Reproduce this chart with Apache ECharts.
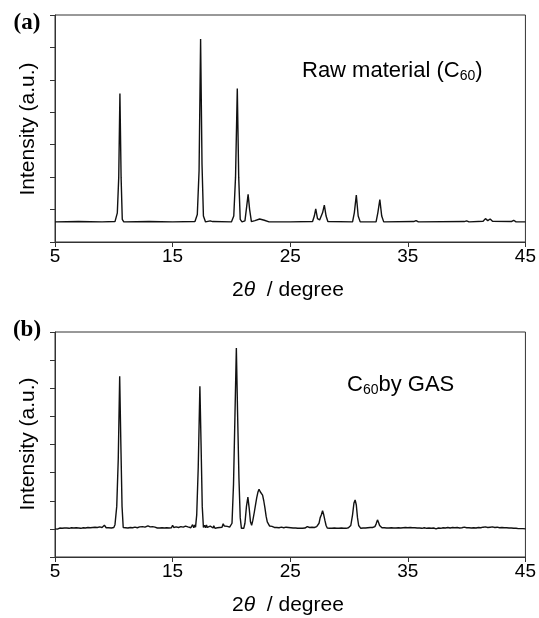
<!DOCTYPE html>
<html>
<head>
<meta charset="utf-8">
<script src="https://cdn.jsdelivr.net/npm/echarts@6/dist/echarts.min.js"></script>
<style>
  html, body { margin: 0; padding: 0; background: #fff; }
  #chart { width: 539px; height: 618px; }
</style>
</head>
<body>
<div id="chart"></div>
<script>
// x ticks shared by both panels
const xTicks = [5, 15, 25, 35, 45];

// (a) raw C60, [2theta, intensity]
const rawPattern = [
  [5, 0.62], [7, 0.63], [9, 0.62], [10.1, 0.63], [10.3, 0.9], [10.42, 2.0], [10.52, 4.58],
  [10.62, 2.0], [10.72, 0.7], [10.85, 0.62], [13, 0.63], [15, 0.62], [16.9, 0.63],
  [17.1, 0.85], [17.25, 2.2], [17.38, 6.26], [17.5, 2.4], [17.62, 0.8], [17.8, 0.62],
  [18.2, 0.65], [18.4, 0.63], [20.0, 0.62], [20.2, 0.8], [20.35, 2.0], [20.5, 4.73],
  [20.62, 2.0], [20.75, 0.7], [20.9, 0.62], [21.15, 0.65], [21.3, 1.1], [21.42, 1.47],
  [21.55, 1.0], [21.7, 0.63], [22.0, 0.66], [22.4, 0.71], [22.8, 0.67], [23.2, 0.62],
  [25, 0.62], [26.9, 0.63], [27.05, 0.8], [27.17, 1.02], [27.32, 0.72], [27.5, 0.68],
  [27.75, 0.9], [27.9, 1.14], [28.05, 0.8], [28.2, 0.63], [30.3, 0.62], [30.45, 0.9],
  [30.62, 1.45], [30.78, 0.8], [30.95, 0.62], [32.3, 0.62], [32.45, 0.9], [32.62, 1.31],
  [32.78, 0.8], [32.95, 0.62], [35.5, 0.63], [35.7, 0.66], [35.9, 0.62], [39.8, 0.63],
  [40.0, 0.65], [40.2, 0.62], [41.4, 0.64], [41.6, 0.72], [41.8, 0.66], [42.0, 0.71],
  [42.2, 0.64], [43.8, 0.63], [44.0, 0.67], [44.2, 0.62], [45, 0.62]
];

// (b) C60 by GAS
const gasPattern = [
  [5.0, 1.00], [5.1, 1.02], [5.2, 0.99], [5.3, 1.01], [5.4, 1.03], [5.5, 1.00], [5.6, 1.02],
  [5.7, 0.99], [5.8, 1.03], [5.9, 1.01], [6.0, 1.03], [6.1, 1.00], [6.2, 1.02], [6.3, 1.01],
  [6.4, 1.04], [6.5, 1.00], [6.6, 1.03], [6.7, 1.01], [6.8, 1.04], [6.9, 1.01], [7.0, 1.03],
  [7.1, 1.00], [7.2, 1.02], [7.3, 1.01], [7.4, 1.04], [7.5, 1.02], [7.6, 1.03], [7.7, 1.01],
  [7.8, 1.05], [7.9, 1.02], [8.0, 1.04], [8.1, 1.02], [8.2, 1.05], [8.3, 1.03], [8.4, 1.06],
  [8.5, 1.02], [8.6, 1.05], [8.7, 1.03], [8.8, 1.07], [8.9, 1.03], [9.0, 1.05],
  [9.1, 1.04], [9.2, 1.13], [9.3, 1.06], [9.35, 1.04], [9.45, 1.10], [9.55, 1.04],
  [9.65, 1.02], [9.8, 1.03], [9.9, 1.02], [10.0, 1.05],
  [10.1, 1.15], [10.25, 1.8], [10.38, 3.5], [10.5, 6.43], [10.6, 4.0], [10.7, 1.8],
  [10.8, 1.05], [10.9, 1.0], [11.0, 1.04], [11.1, 1.01], [11.2, 1.03], [11.3, 1.01],
  [11.4, 1.05], [11.5, 1.02], [11.6, 1.04], [11.7, 1.01], [11.8, 1.06], [11.9, 1.02],
  [12.0, 1.04], [12.1, 1.02], [12.2, 1.07], [12.3, 1.03], [12.35, 1.02], [12.45, 1.08],
  [12.55, 1.03], [12.65, 1.06], [12.75, 1.02], [12.9, 1.11], [13.0, 1.04], [13.1, 1.07],
  [13.2, 1.03], [13.3, 1.08], [13.4, 1.03], [13.5, 1.06], [13.6, 1.09], [13.7, 1.03],
  [13.8, 1.06], [13.9, 1.03], [14.0, 1.10], [14.1, 1.04], [14.2, 1.05], [14.3, 1.03],
  [14.4, 1.09], [14.5, 1.04], [14.6, 1.06], [14.7, 1.03], [14.8, 1.08], [14.9, 1.04],
  [15.0, 1.13], [15.1, 1.05], [15.2, 1.04], [15.3, 1.07], [15.4, 1.03], [15.5, 1.05],
  [15.6, 1.04], [15.7, 1.08], [15.8, 1.03], [15.9, 1.06], [16.0, 1.04], [16.1, 1.10],
  [16.2, 1.04], [16.3, 1.07], [16.4, 1.03], [16.45, 1.13], [16.55, 1.04], [16.62, 1.10],
  [16.7, 1.15], [16.8, 1.04], [16.88, 1.14], [16.95, 1.06],
  [17.05, 1.5], [17.18, 3.2], [17.32, 6.07], [17.42, 4.0], [17.52, 1.8], [17.62, 1.05],
  [17.72, 1.13], [17.8, 1.04], [17.88, 1.14], [17.95, 1.05], [18.05, 1.12], [18.12, 1.04],
  [18.2, 1.10], [18.28, 1.03], [18.35, 1.08], [18.45, 1.03], [18.5, 1.11], [18.6, 1.02],
  [18.65, 1.06], [18.8, 1.04], [18.9, 1.02], [19.0, 1.05], [19.1, 1.03], [19.2, 1.06],
  [19.3, 1.18], [19.4, 1.10], [19.45, 1.06], [19.55, 1.04], [19.65, 1.09], [19.75, 1.03],
  [19.85, 1.06], [19.95, 1.03], [20.05, 1.2], [20.18, 2.6],
  [20.3, 5.0], [20.42, 7.43], [20.52, 5.2], [20.64, 2.8], [20.75, 1.4], [20.85, 1.02],
  [20.95, 1.05], [21.05, 1.02], [21.15, 1.2], [21.28, 1.8], [21.4, 2.13], [21.52, 1.7],
  [21.62, 1.25], [21.72, 1.13], [21.82, 1.3], [21.95, 1.6], [22.05, 1.85], [22.15, 2.1],
  [22.25, 2.3], [22.35, 2.41], [22.45, 2.32], [22.55, 2.35], [22.65, 2.2], [22.75, 2.0],
  [22.85, 1.75], [22.95, 1.45], [23.05, 1.25], [23.15, 1.3], [23.25, 1.1], [23.35, 1.05],
  [23.45, 1.09], [23.55, 1.03], [23.65, 1.05], [23.75, 1.02], [23.85, 1.05], [23.95, 1.02],
  [24.05, 1.04], [24.15, 1.02], [24.25, 1.06], [24.35, 1.02], [24.45, 1.04], [24.55, 1.02],
  [24.65, 1.06], [24.75, 1.03], [24.85, 1.05], [24.95, 1.11], [25.05, 1.04], [25.15, 1.06],
  [25.25, 1.03], [25.35, 1.07], [25.45, 1.03], [25.55, 1.05], [25.65, 1.02], [25.75, 1.06],
  [25.85, 1.02], [25.95, 1.04], [26.05, 1.02], [26.15, 1.05], [26.25, 1.03], [26.35, 1.04],
  [26.45, 1.08], [26.55, 1.03], [26.65, 1.05], [26.75, 1.03], [26.85, 1.06], [26.95, 1.03],
  [27.05, 1.05], [27.15, 1.04], [27.25, 1.08], [27.35, 1.10], [27.45, 1.2], [27.55, 1.4],
  [27.65, 1.5], [27.75, 1.65], [27.85, 1.5], [27.95, 1.3], [28.05, 1.12], [28.15, 1.03],
  [28.25, 1.06], [28.35, 1.02], [28.45, 1.05], [28.55, 1.02], [28.65, 1.06], [28.75, 1.03],
  [28.85, 1.05], [28.95, 1.02], [29.05, 1.05], [29.15, 1.02], [29.25, 1.04], [29.35, 1.03],
  [29.45, 1.06], [29.55, 1.02], [29.65, 1.04], [29.75, 1.02], [29.85, 1.05], [29.95, 1.04],
  [30.05, 1.06], [30.15, 1.12], [30.3, 1.5], [30.42, 1.92], [30.52, 2.03], [30.62, 1.85],
  [30.72, 1.4], [30.82, 1.12], [30.9, 1.05], [31.0, 1.02], [31.1, 1.05], [31.2, 1.03],
  [31.3, 1.06], [31.4, 1.03], [31.5, 1.07], [31.6, 1.04], [31.7, 1.02], [31.8, 1.05],
  [31.9, 1.02], [32.0, 1.05], [32.1, 1.04], [32.2, 1.08], [32.3, 1.17], [32.42, 1.32],
  [32.52, 1.22], [32.6, 1.12], [32.7, 1.06], [32.8, 1.04], [32.9, 1.08], [33.0, 1.04],
  [33.1, 1.06], [33.2, 1.03], [33.3, 1.06], [33.4, 1.03], [33.5, 1.05], [33.6, 1.04],
  [33.7, 1.07], [33.8, 1.03], [33.9, 1.05], [34.0, 1.03], [34.1, 1.06], [34.2, 1.04],
  [34.3, 1.05], [34.4, 1.03], [34.5, 1.07], [34.6, 1.04], [34.7, 1.06], [34.8, 1.05],
  [34.9, 1.1], [35.0, 1.04], [35.1, 1.03], [35.2, 1.05], [35.3, 1.02], [35.4, 1.04],
  [35.5, 1.02], [35.6, 1.04], [35.7, 1.01], [35.8, 1.03], [35.9, 1.01], [36.0, 1.03],
  [36.1, 1.01], [36.2, 1.02], [36.3, 1.00], [36.4, 1.04], [36.5, 1.01], [36.6, 1.02],
  [36.7, 1.00], [36.8, 1.03], [36.9, 1.01], [37.0, 1.02], [37.1, 1.00], [37.2, 1.03],
  [37.3, 1.01], [37.4, 1.00], [37.5, 1.02], [37.6, 1.03], [37.7, 1.00], [37.8, 1.02],
  [37.9, 1.01], [38.0, 1.04], [38.1, 1.01], [38.2, 1.03], [38.3, 1.01], [38.4, 1.05],
  [38.5, 1.02], [38.6, 1.03], [38.7, 1.01], [38.8, 1.05], [38.9, 1.02], [39.0, 1.04],
  [39.1, 1.02], [39.2, 1.05], [39.3, 1.01], [39.4, 1.03], [39.5, 1.01], [39.6, 1.04],
  [39.7, 1.02], [39.8, 1.06], [39.9, 1.02], [40.0, 1.04], [40.1, 1.01], [40.2, 1.04],
  [40.3, 1.02], [40.4, 1.03], [40.5, 1.01], [40.6, 1.04], [40.7, 1.02], [40.8, 1.03],
  [40.9, 1.01], [41.0, 1.05], [41.1, 1.02], [41.2, 1.04], [41.3, 1.02], [41.4, 1.06],
  [41.5, 1.02], [41.6, 1.07], [41.7, 1.03], [41.8, 1.05], [41.9, 1.02], [42.0, 1.06],
  [42.1, 1.03], [42.2, 1.07], [42.3, 1.02], [42.4, 1.05], [42.5, 1.02], [42.6, 1.06],
  [42.7, 1.03], [42.8, 1.04], [42.9, 1.02], [43.0, 1.05], [43.1, 1.02], [43.2, 1.04],
  [43.3, 1.01], [43.4, 1.04], [43.5, 1.02], [43.6, 1.03], [43.7, 1.01], [43.8, 1.03],
  [43.9, 1.00], [44.0, 1.02], [44.1, 1.01], [44.2, 1.02], [44.3, 1.00], [44.4, 1.01],
  [44.5, 0.99], [44.6, 1.01], [44.7, 1.00], [44.8, 1.01], [44.9, 0.99], [45.0, 1.00]
];

const FONT = '"Liberation Sans", Arial, sans-serif';
const AXIS_COLOR = '#333';

function xAxisFor(gridIndex) {
  return {
    type: 'value', gridIndex: gridIndex,
    min: xTicks[0], max: xTicks[xTicks.length - 1], interval: 10,
    axisLine: { lineStyle: { color: AXIS_COLOR, width: 1 } },
    axisTick: { show: true, length: 5, lineStyle: { color: AXIS_COLOR } },
    axisLabel: { color: '#000', fontSize: 19, fontFamily: FONT, margin: 5 },
    splitLine: { show: false }
  };
}

function yAxisFor(gridIndex, max) {
  return {
    type: 'value', gridIndex: gridIndex, min: 0, max: max, interval: 1,
    axisLine: { show: true, lineStyle: { color: AXIS_COLOR, width: 1 } },
    axisTick: { show: true, length: 5, lineStyle: { color: AXIS_COLOR } },
    axisLabel: { show: false },
    splitLine: { show: false }
  };
}

function lineSeries(idx, data) {
  return {
    type: 'line', xAxisIndex: idx, yAxisIndex: idx, data: data,
    showSymbol: false, symbol: 'none', silent: true,
    lineStyle: { color: '#111', width: 1.4 }
  };
}

const subRich = {
  m: { fontSize: 22, fontFamily: FONT, color: '#000', lineHeight: 25 },
  s: { fontSize: 14, fontFamily: FONT, color: '#000', lineHeight: 25, verticalAlign: 'bottom' }
};

function label(text, x, y, extra, rotation) {
  return {
    type: 'text', x: x, y: y, rotation: rotation || 0, silent: true,
    style: Object.assign({ text: text, fill: '#000', font: '21px ' + FONT,
      align: 'center', verticalAlign: 'middle' }, extra || {})
  };
}

const chart = echarts.init(document.getElementById('chart'), null, { renderer: 'canvas' });
chart.setOption({
  animation: false,
  backgroundColor: '#fff',
  grid: [
    { left: 55, right: 11, top: 15, height: 227, show: true, borderColor: AXIS_COLOR, borderWidth: 1 },
    { left: 55, right: 11, top: 332, height: 225, show: true, borderColor: AXIS_COLOR, borderWidth: 1 }
  ],
  xAxis: [xAxisFor(0), xAxisFor(1)],
  yAxis: [yAxisFor(0, 7), yAxisFor(1, 8)],
  series: [lineSeries(0, rawPattern), lineSeries(1, gasPattern)],
  graphic: [
    label('(a)', 27, 23, { font: 'bold 23px "Liberation Serif", serif' }),
    label('(b)', 27, 330, { font: 'bold 23px "Liberation Serif", serif' }),
    label('Intensity (a.u.)', 28, 129, null, Math.PI / 2),
    label('Intensity (a.u.)', 28, 444, null, Math.PI / 2),
    {
      type: 'text', x: 288, y: 290, silent: true,
      style: { text: '2{i|θ}  / degree', fill: '#000', font: '21px ' + FONT,
        align: 'center', verticalAlign: 'middle',
        rich: { i: { fontSize: 21, fontFamily: FONT, fontStyle: 'italic' } } }
    },
    {
      type: 'text', x: 288, y: 605, silent: true,
      style: { text: '2{i|θ}  / degree', fill: '#000', font: '21px ' + FONT,
        align: 'center', verticalAlign: 'middle',
        rich: { i: { fontSize: 21, fontFamily: FONT, fontStyle: 'italic' } } }
    },
    {
      type: 'text', x: 302, y: 71, silent: true,
      style: { text: '{m|Raw material (C}{s|60}{m|)}', fill: '#000', font: '22px ' + FONT,
        align: 'left', verticalAlign: 'middle', rich: subRich }
    },
    {
      type: 'text', x: 347, y: 385, silent: true,
      style: { text: '{m|C}{s|60}{m|by GAS}', fill: '#000', font: '22px ' + FONT,
        align: 'left', verticalAlign: 'middle', rich: subRich }
    }
  ]
});
</script>
</body>
</html>
